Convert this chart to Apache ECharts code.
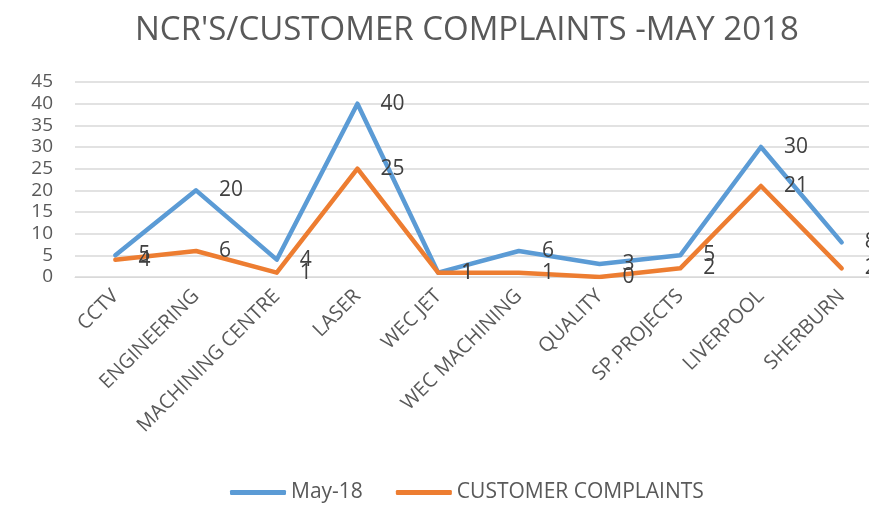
<!DOCTYPE html>
<html>
<head>
<meta charset="utf-8">
<title>NCR's / Customer complaints</title>
<script src="https://cdn.jsdelivr.net/npm/echarts@6/dist/echarts.min.js"></script>
<style>
    html, body { margin: 0; padding: 0; background: #fff; }
    #chart { width: 869px; height: 507px; }
</style>
</head>
<body>
<div id="chart"></div>
<script>
const categories = ['CCTV', 'ENGINEERING', 'MACHINING CENTRE', 'LASER', 'WEC JET',
    'WEC MACHINING', 'QUALITY', 'SP.PROJECTS', 'LIVERPOOL', 'SHERBURN'];
const ncrValues = [5, 20, 4, 40, 1, 6, 3, 5, 30, 8];
const complaintValues = [4, 6, 1, 25, 1, 1, 0, 2, 21, 2];

const fontFamily = '"Open Sans", sans-serif';

const chart = echarts.init(document.getElementById('chart'));

function lineSeries(name, data, color) {
    return {
        name: name,
        type: 'line',
        data: data,
        symbol: 'circle',
        symbolSize: 0.1,
        itemStyle: { color: color },
        lineStyle: { color: color, width: 4.5, cap: 'round', join: 'round' },
        label: {
            show: true,
            position: 'right',
            distance: 23,
            color: '#404040',
            fontSize: 21,
            fontFamily: fontFamily
        },
        emphasis: { disabled: true },
        animation: false
    };
}

const option = {
    title: {
        text: "NCR'S/CUSTOMER COMPLAINTS -MAY 2018",
        left: 130,
        top: 9,
        textStyle: {
            color: '#595959',
            fontSize: 33,
            fontWeight: 'normal',
            fontFamily: fontFamily
        }
    },
    legend: {
        bottom: -1,
        left: 225,
        itemWidth: 56,
        itemHeight: 5,
        itemGap: 33,
        icon: 'roundRect',
        textStyle: { color: '#595959', fontSize: 21, fontFamily: fontFamily },
        data: ['May-18', 'CUSTOMER COMPLAINTS']
    },
    grid: {
        left: 75,
        width: 807,
        top: 82,
        bottom: 230,
        containLabel: false,
        outerBoundsMode: 'none'
    },
    xAxis: {
        type: 'category',
        data: categories,
        boundaryGap: true,
        axisLine: { lineStyle: { color: '#D9D9D9', width: 1 } },
        axisTick: { show: false },
        axisLabel: {
            rotate: 45,
            interval: 0,
            margin: 16,
            color: '#595959',
            fontSize: 20,
            fontFamily: fontFamily
        }
    },
    yAxis: {
        type: 'value',
        min: 0,
        max: 45,
        interval: 5,
        axisLine: { show: false },
        axisTick: { show: false },
        splitLine: { lineStyle: { color: '#D9D9D9', width: 1.5 } },
        axisLabel: {
            margin: 22,
            color: '#595959',
            fontSize: 19,
            fontFamily: fontFamily
        }
    },
    series: [
        lineSeries('May-18', ncrValues, '#5B9BD5'),
        lineSeries('CUSTOMER COMPLAINTS', complaintValues, '#ED7D31')
    ]
};

chart.setOption(option);
</script>
</body>
</html>
